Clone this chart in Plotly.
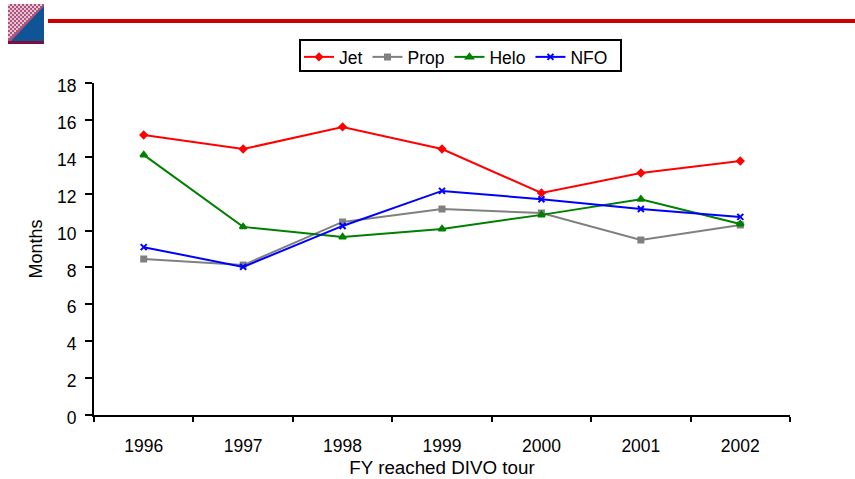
import plotly.graph_objects as go

years = ["1996", "1997", "1998", "1999", "2000", "2001", "2002"]
jet = [15.18, 14.42, 15.62, 14.42, 12.04, 13.12, 13.77]
prop = [8.46, 8.13, 10.47, 11.17, 10.95, 9.49, 10.3]
helo = [14.1, 10.2, 9.65, 10.09, 10.85, 11.7, 10.36]
nfo = [9.1, 8.03, 10.25, 12.15, 11.7, 11.17, 10.74]
y_ticks = list(range(0, 19, 2))

W, H = 855, 479
L, R, T, B = 94, 790, 83, 415
FONT = "Liberation Sans, Arial, sans-serif"
SIZE = 17.5

fig = go.Figure()
for name, vals, color, sym, size in [
    ("Jet", jet, "#ff0000", "diamond", 5),
    ("Prop", prop, "#808080", "square", 5),
    ("Helo", helo, "#008000", "triangle-up", 6),
    ("NFO", nfo, "#0000ff", "x-thin", 6),
]:
    fig.add_trace(go.Scatter(
        x=years, y=vals, name=name, mode="lines+markers",
        line=dict(color=color, width=2),
        marker=dict(color=color, symbol=sym, size=size, line=dict(color=color, width=2)),
    ))

def px(x): return (x - L) / (R - L)
def py(y): return (B - y) / (B - T)

# logo dither on the upper-left triangle
checks = []
for j in range(0, 38, 2):
    for i in range(0, 36, 2):
        if (i // 2 + j // 2) % 2 == 0 and i + j < 34:
            x0, y0 = 8 + i, 4 + j
            checks.append(f"M {px(x0)} {py(y0)} L {px(x0+2)} {py(y0)} L {px(x0+2)} {py(y0+2)} L {px(x0)} {py(y0+2)} Z")

shapes = [
    dict(type="line", xref="paper", yref="paper", x0=px(48), x1=px(855), y0=py(21), y1=py(21),
         line=dict(color="#cc0000", width=4)),
    dict(type="rect", xref="paper", yref="paper", x0=px(8), x1=px(44), y0=py(44), y1=py(4),
         fillcolor="#b0527c", line=dict(width=0), layer="above"),
    dict(type="path", xref="paper", yref="paper", layer="above", path=" ".join(checks),
         fillcolor="#e3c6d3", line=dict(width=0)),
    dict(type="path", xref="paper", yref="paper", layer="above",
         path=f"M {px(44)} {py(6)} L {px(44)} {py(41)} L {px(11)} {py(41)} Z",
         fillcolor="#0f5596", line=dict(width=0)),
    dict(type="rect", xref="paper", yref="paper", x0=px(8), x1=px(44), y0=py(44), y1=py(41),
         fillcolor="#7a1040", line=dict(width=0), layer="above"),
    # legend frame
    dict(type="rect", xref="paper", yref="paper", x0=px(300), x1=px(621), y0=py(71), y1=py(40),
         fillcolor="white", line=dict(color="#000000", width=2), layer="below"),
]

fig.update_layout(
    width=W, height=H, autosize=False,
    paper_bgcolor="white", plot_bgcolor="white",
    margin=dict(l=L, r=W - R, t=T, b=H - B, pad=0),
    font=dict(family=FONT, size=SIZE, color="#000000"),
    shapes=shapes,
    showlegend=True,
    legend=dict(
        orientation="h", x=px(299), y=py(39), xanchor="left", yanchor="top",
        xref="paper", yref="paper",
        bgcolor="rgba(0,0,0,0)", borderwidth=0,
        font=dict(family=FONT, size=SIZE), itemwidth=30,
    ),
    xaxis=dict(
        type="category", categoryorder="array", categoryarray=years, tickson="boundaries",
        range=[-0.5, 6.5], showgrid=False, zeroline=False, showline=True, automargin=False,
        linecolor="#000000", linewidth=2, ticks="outside", ticklen=5, tickwidth=2,
        tickcolor="#000000", tickfont=dict(family=FONT, size=SIZE), ticklabelstandoff=14,
        title=dict(text="FY reached DIVO tour", font=dict(family=FONT, size=18.8), standoff=6),
    ),
    yaxis=dict(
        range=[0, 18], tickvals=y_ticks, showgrid=False, zeroline=False, showline=True, automargin=False,
        linecolor="#000000", linewidth=2, ticks="outside", ticklen=7, tickwidth=2,
        tickcolor="#000000", tickfont=dict(family=FONT, size=SIZE), ticklabelstandoff=5,
        ticklabelshift=3,
        title=dict(text="Months", font=dict(family=FONT, size=18), standoff=10),
    ),
)

fig.write_html("out.html", config={"displayModeBar": False},
               post_script="document.body.style.margin='0';")
